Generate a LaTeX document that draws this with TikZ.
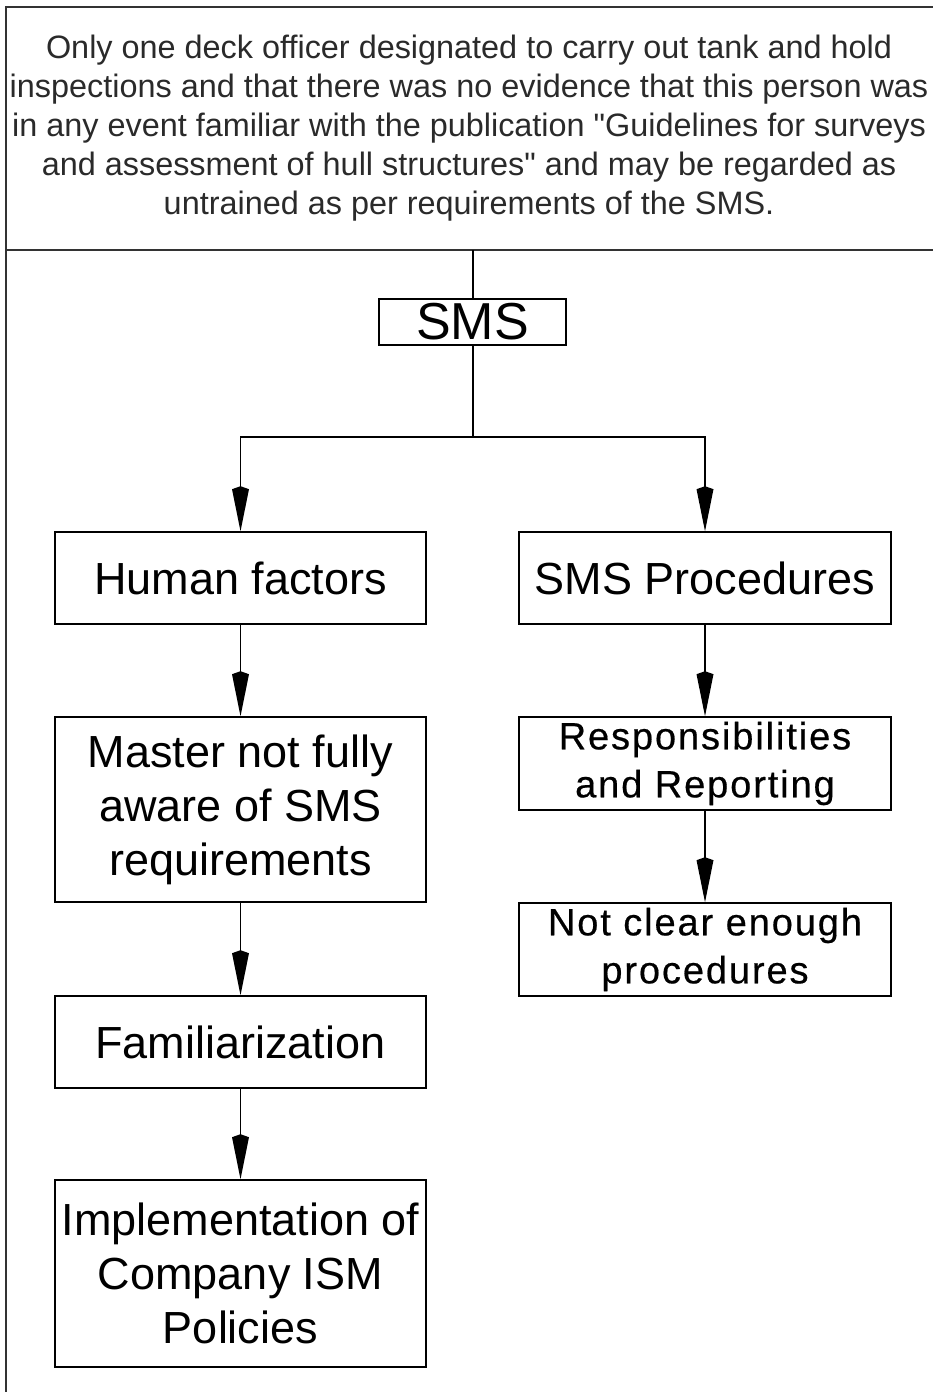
\documentclass[tikz,border=0pt]{standalone}
\usepackage{fontspec}
\setmainfont{Liberation Sans}
\newfontfamily\spacedfont[LetterSpace=5,FakeBold=0.5]{Liberation Sans}
\usetikzlibrary{arrows.meta}
\definecolor{framegray}{HTML}{333333}
\definecolor{notegray}{HTML}{2A2A2A}
\begin{document}
\begin{tikzpicture}[x=1pt,y=-1pt,
  box/.style={draw=black,line width=1.6pt,rectangle,inner sep=0pt,align=center,
    font=\fontsize{45}{54}\selectfont},
  leftbox/.style={box,minimum width=371pt},
  rightbox/.style={box,minimum width=372pt},
  spacedbox/.style={rightbox,font=\spacedfont\fontsize{38}{48}\selectfont},
  link/.style={line width=1.6pt,draw=black},
  arr/.style={link,-{Kite[length=45pt,width=17pt,inset=3pt]}},
  frame/.style={line width=2.6pt,draw=framegray}]
\useasboundingbox (0,0) rectangle (933,1392);

% outer frame and header panel
\draw[frame] (933,7) -- (6,7) -- (6,1392);
\draw[frame] (6,250) -- (933,250);
\node[align=center,text=notegray,font=\fontsize{32.4}{39}\selectfont,inner sep=0pt]
  (header) at (469,128)
  {Only one deck officer designated to carry out tank and hold\\
   inspections and that there was no evidence that this person was\\
   in any event familiar with the publication \textquotedbl Guidelines for surveys\\
   and assessment of hull structures\textquotedbl{} and may be regarded as\\
   untrained as per requirements of the SMS.};
\coordinate (hbase) at (473,250);

% boxes
\node[box,minimum width=187pt,minimum height=46pt,font=\fontsize{52}{54}\selectfont]
  (sms) at (472.5,322) {SMS};
\node[leftbox,minimum height=92pt] (hf) at (240.5,578) {Human factors};
\node[rightbox,minimum height=92pt] (sp) at (705,578) {SMS Procedures};
\node[leftbox,minimum height=185pt] (master) at (240.5,809.5)
  {Master not fully\\aware of SMS\\requirements};
\node[spacedbox,minimum height=93pt] (resp) at (705,763.5)
  {Responsibilities\\and Reporting};
\node[spacedbox,minimum height=93pt] (clear) at (705,949.5)
  {Not clear enough\\procedures};
\node[leftbox,minimum height=92pt] (fam) at (240.5,1042) {Familiarization};
\node[leftbox,minimum height=187pt] (impl) at (240.5,1273.5)
  {Implementation of\\Company ISM\\Policies};

% connectors
\coordinate (split) at (473,437);
\draw[link] (hbase) -- (sms.north -| hbase);
\draw[link] (sms.south -| split) -- (split);
\draw[arr] (split) -| (hf.north);
\draw[arr] (split) -| (sp.north);
\draw[arr] (hf.south) -- (master.north);
\draw[arr] (master.south) -- (fam.north);
\draw[arr] (fam.south) -- (impl.north);
\draw[arr] (sp.south) -- (resp.north);
\draw[arr] (resp.south) -- (clear.north);
\end{tikzpicture}
\end{document}
